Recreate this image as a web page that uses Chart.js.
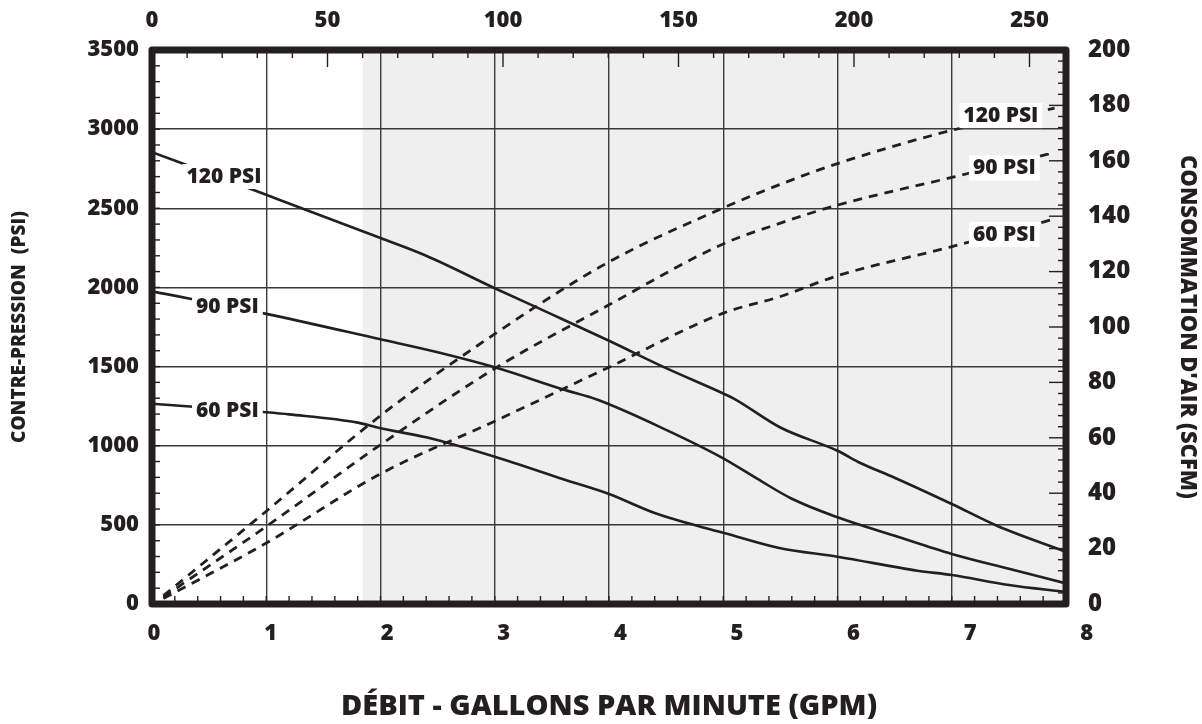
<!DOCTYPE html>
<html>
<head>
<meta charset="utf-8">
<script src="https://cdn.jsdelivr.net/npm/chart.js@4/dist/chart.umd.min.js"></script>
<style>
html,body{margin:0;padding:0;background:#fff;}
#wrap{width:1202px;height:724px;position:relative;}
</style>
</head>
<body>
<div id="wrap"><canvas id="c"></canvas></div>
<script>
// contre-pression (PSI) vs débit (GPM), solid lines, left axis
const gpm120=[0,1,2,2.4,3,3.5,4,4.5,5,5.1,5.5,6,6.2,6.5,7,7.4,8];
const psi120=[2855,2585,2312,2200,1995,1830,1663,1490,1330,1295,1115,968,891,798,632,493,330];
const gpm90=[0,1,2,2.5,3,3.6,3.9,4.5,5,5.3,5.6,6,6.5,7,7.5,8];
const psi90=[1975,1833,1672,1590,1495,1355,1290,1100,920,790,665,548,431,316,222,130];
const gpm60=[0,1,1.2,1.8,2,2.4,3,3.6,4,4.4,4.8,5,5.5,6,6.7,7,7.5,8];
const psi60=[1265,1211,1198,1146,1110,1053,930,788,695,575,488,450,352,299,210,183,120,76];

// consommation d'air (SCFM), dashed lines, right axis
const gpmAir=[0.1,1,2,3,4,5,5.5,6,7,7.9];
const scfm120=[3,33.5,68,97.5,123.5,143,151.5,159,171,179];
const scfm90=[2.5,28,57.5,85,108,130,137.5,144,154,163];
const scfm60=[2,22,47,66,85.5,105,111,118.5,129,139];

const gpmTicks=[0,1,2,3,4,5,6,7,8];
const topTicks=[0,50,100,150,200,250];
const shadeFrom=60; // top axis units
const curveLabels=[
  {text:'120 PSI',x:0.63,y:2704,axis:'y'},
  {text:'90 PSI',x:0.66,y:1883,axis:'y'},
  {text:'60 PSI',x:0.66,y:1226,axis:'y'},
  {text:'120 PSI',x:7.43,y:176.5,axis:'y2'},
  {text:'90 PSI',x:7.46,y:157.6,axis:'y2'},
  {text:'60 PSI',x:7.46,y:133.6,axis:'y2'}
];

const INK='#231f20';
const FONT='"Open Sans", sans-serif';
const pts=(xs,ys)=>xs.map((x,i)=>({x:x,y:ys[i]}));

const solid={borderColor:INK,borderWidth:2.6,pointRadius:0,fill:false,cubicInterpolationMode:'monotone',yAxisID:'y',xAxisID:'x'};
const dashed={borderColor:INK,borderWidth:2.8,borderDash:[9,7],pointRadius:0,fill:false,cubicInterpolationMode:'monotone',yAxisID:'y2',xAxisID:'x'};

const decor={
  id:'decor',
  beforeDraw(chart){
    const {ctx,chartArea:a,scales}=chart;
    const x0=scales.xTop.getPixelForValue(shadeFrom);
    ctx.save();
    ctx.fillStyle='#efefef';
    ctx.fillRect(x0,a.top,a.right-x0,a.bottom-a.top);
    ctx.restore();
  },
  afterDraw(chart){
    const {ctx,chartArea:a,scales}=chart;
    ctx.save();
    // curve labels
    ctx.font='800 21px '+FONT;
    ctx.textAlign='center';ctx.textBaseline='middle';
    curveLabels.forEach(l=>{
      const px=scales.x.getPixelForValue(l.x),py=scales[l.axis].getPixelForValue(l.y);
      const w=ctx.measureText(l.text).width;
      ctx.fillStyle='#fff';
      ctx.fillRect(px-w/2-4,py-12,w+8,25);
      ctx.fillStyle=INK;
      ctx.fillText(l.text,px,py+1);
    });
    // inward ticks
    ctx.strokeStyle=INK;ctx.lineWidth=1.4;
    const tick=(x1,y1,x2,y2)=>{ctx.beginPath();ctx.moveTo(x1,y1);ctx.lineTo(x2,y2);ctx.stroke();};
    for(let v=0.2;v<8;v+=0.2){const p=scales.x.getPixelForValue(v);tick(p,a.bottom,p,a.bottom-8);}
    for(let v=10;v<scales.xTop.max;v+=10){const p=scales.xTop.getPixelForValue(v);tick(p,a.top,p,a.top+(v%50===0?17:8));}
    for(let v=100;v<3500;v+=100){const p=scales.y.getPixelForValue(v);tick(a.left,p,a.left+8,p);}
    for(let v=4;v<200;v+=4){const p=scales.y2.getPixelForValue(v);tick(a.right,p,a.right-(v%20===0?17:8),p);}
    // frame
    ctx.lineWidth=7;ctx.lineJoin='round';
    ctx.strokeRect(a.left,a.top,a.right-a.left,a.bottom-a.top);
    ctx.restore();
  }
};

const f=(size)=>({family:FONT,size:size,weight:800});

new Chart(document.getElementById('c'),{
  type:'line',
  data:{datasets:[
    Object.assign({data:pts(gpm120,psi120)},solid),
    Object.assign({data:pts(gpm90,psi90)},solid),
    Object.assign({data:pts(gpm60,psi60)},solid),
    Object.assign({data:pts(gpmAir,scfm120)},dashed),
    Object.assign({data:pts(gpmAir,scfm90)},dashed),
    Object.assign({data:pts(gpmAir,scfm60)},dashed)
  ]},
  options:{
    responsive:true,maintainAspectRatio:false,animation:false,
    layout:{padding:0},
    plugins:{legend:{display:false},tooltip:{enabled:false}},
    scales:{
      x:{type:'linear',position:'bottom',min:0,max:8,weight:2,
        ticks:{display:false,stepSize:1},
        grid:{color:'#3a3a3a',lineWidth:1.4,drawTicks:false},
        border:{display:false},
        afterFit:s=>{s.height=0;}},
      xLab:{type:'linear',position:'bottom',min:-0.0172,max:7.822,weight:1,
        afterBuildTicks:s=>{s.ticks=gpmTicks.map(v=>({value:v}));},
        ticks:{autoSkip:false,color:INK,font:f(22),padding:17,callback:v=>String(v)},
        grid:{display:false,drawTicks:false},border:{display:false},
        title:{display:true,text:'DÉBIT - GALLONS PAR MINUTE (GPM)',color:INK,font:f(29),padding:{top:0,bottom:0}},
        afterFit:s=>{s.height=120;}},
      xTop:{type:'linear',position:'top',min:0,max:260.4,
        afterBuildTicks:s=>{s.ticks=topTicks.map(v=>({value:v}));},
        ticks:{autoSkip:false,color:INK,font:f(22),padding:16,callback:v=>String(v)},
        grid:{display:false,drawTicks:false},border:{display:false},
        afterFit:s=>{s.height=50;}},
      y:{type:'linear',position:'left',min:0,max:3500,
        ticks:{stepSize:500,color:INK,font:f(22),padding:13,callback:v=>String(v)},
        grid:{color:'#3a3a3a',lineWidth:1.4,drawTicks:false},border:{display:false},
        title:{display:true,text:'CONTRE-PRESSION  (PSI)',color:INK,font:f(19),padding:{top:8,bottom:0}},
        afterFit:s=>{s.width=152;}},
      y2:{type:'linear',position:'right',min:0,max:200,
        ticks:{stepSize:20,color:INK,font:f(24),padding:22,callback:v=>String(v)},
        grid:{display:false,drawTicks:false},border:{display:false},
        title:{display:true,text:"CONSOMMATION D'AIR (SCFM)",color:INK,font:f(22),padding:{top:2,bottom:0}},
        afterFit:s=>{s.width=136;}}
    }
  },
  plugins:[decor]
});
</script>
</body>
</html>
